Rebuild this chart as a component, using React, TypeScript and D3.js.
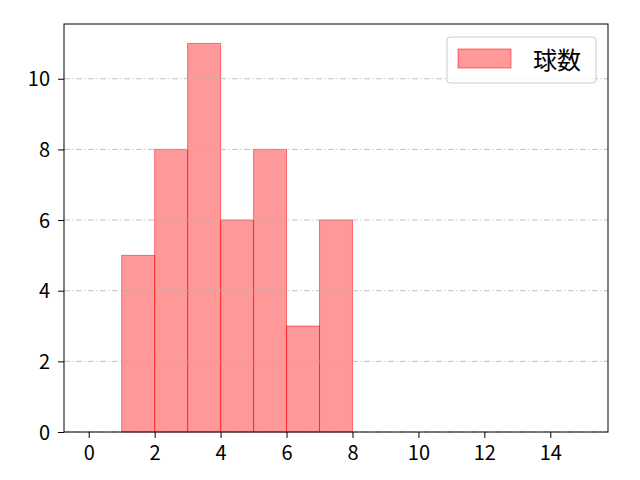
import React, { useEffect, useRef } from "react";
import * as d3 from "d3";

const binStarts = [1, 2, 3, 4, 5, 6, 7];
const counts = [5, 8, 11, 6, 8, 3, 6];
const xTickValues = [0, 2, 4, 6, 8, 10, 12, 14];
const yTickValues = [0, 2, 4, 6, 8, 10];
const seriesName = "球数";

const W = 640;
const H = 480;
const margin = { top: 24, right: 32, bottom: 48, left: 64 };
const font = "'Noto Sans CJK JP', 'DejaVu Sans', sans-serif";

export default function App() {
  const ref = useRef<SVGSVGElement>(null);

  useEffect(() => {
    document.body.style.margin = "0";
    const svg = d3.select(ref.current);
    svg.selectAll("*").remove();

    const width = W - margin.left - margin.right;
    const height = H - margin.top - margin.bottom;

    const x = d3.scaleLinear().domain([-0.75, 15.75]).range([0, width]);
    const y = d3
      .scaleLinear()
      .domain([0, d3.max(counts)! * 1.05])
      .range([height, 0]);

    const g = svg
      .append("g")
      .attr("transform", `translate(${margin.left},${margin.top})`);

    // bars
    g.append("g")
      .selectAll("rect")
      .data(binStarts)
      .enter()
      .append("rect")
      .attr("x", (d) => x(d))
      .attr("y", (d, i) => y(counts[i]))
      .attr("width", (d) => x(d + 1) - x(d))
      .attr("height", (d, i) => y(0) - y(counts[i]))
      .attr("fill", "rgba(255,0,0,0.4)")
      .attr("stroke", "rgba(255,0,0,0.5)")
      .attr("stroke-width", 1);

    // grid on top
    g.append("g")
      .selectAll("line")
      .data(yTickValues)
      .enter()
      .append("line")
      .attr("x1", 0)
      .attr("x2", width)
      .attr("y1", (d) => y(d))
      .attr("y2", (d) => y(d))
      .attr("stroke", "#b0b0b0")
      .attr("stroke-width", 0.8)
      .attr("stroke-dasharray", "6,2.4,1.2,2.4");

    const xAxis = g
      .append("g")
      .attr("transform", `translate(0,${height})`)
      .call(d3.axisBottom(x).tickValues(xTickValues).tickSize(6).tickPadding(8).tickFormat(d3.format("d")));
    const yAxis = g
      .append("g")
      .call(d3.axisLeft(y).tickValues(yTickValues).tickSize(6).tickPadding(8).tickFormat(d3.format("d")));

    [xAxis, yAxis].forEach((a) => {
      a.select(".domain").remove();
      a.selectAll("line").attr("stroke", "#000").attr("stroke-width", 1);
      a.selectAll("text")
        .attr("fill", "#000")
        .style("font-family", font)
        .style("font-size", "20px");
    });
    yAxis.selectAll("text").attr("dy", "0.35em");

    // frame
    g.append("rect")
      .attr("x", 0)
      .attr("y", 0)
      .attr("width", width)
      .attr("height", height)
      .attr("fill", "none")
      .attr("stroke", "#000")
      .attr("stroke-width", 1);

    // legend
    const lg = g.append("g").attr("transform", `translate(${width - 161},${13})`);
    lg.append("rect")
      .attr("width", 149)
      .attr("height", 46)
      .attr("rx", 3)
      .attr("fill", "rgba(255,255,255,0.8)")
      .attr("stroke", "#cccccc");
    lg.append("rect")
      .attr("x", 11)
      .attr("y", 12)
      .attr("width", 53)
      .attr("height", 19)
      .attr("fill", "rgba(255,0,0,0.4)")
      .attr("stroke", "rgba(255,0,0,0.5)");
    lg.append("text")
      .attr("x", 86)
      .attr("y", 32)
      .style("font-family", font)
      .style("font-size", "24px")
      .attr("fill", "#000")
      .text(seriesName);
  }, []);

  return <svg ref={ref} width={W} height={H} style={{ display: "block" }} />;
}
